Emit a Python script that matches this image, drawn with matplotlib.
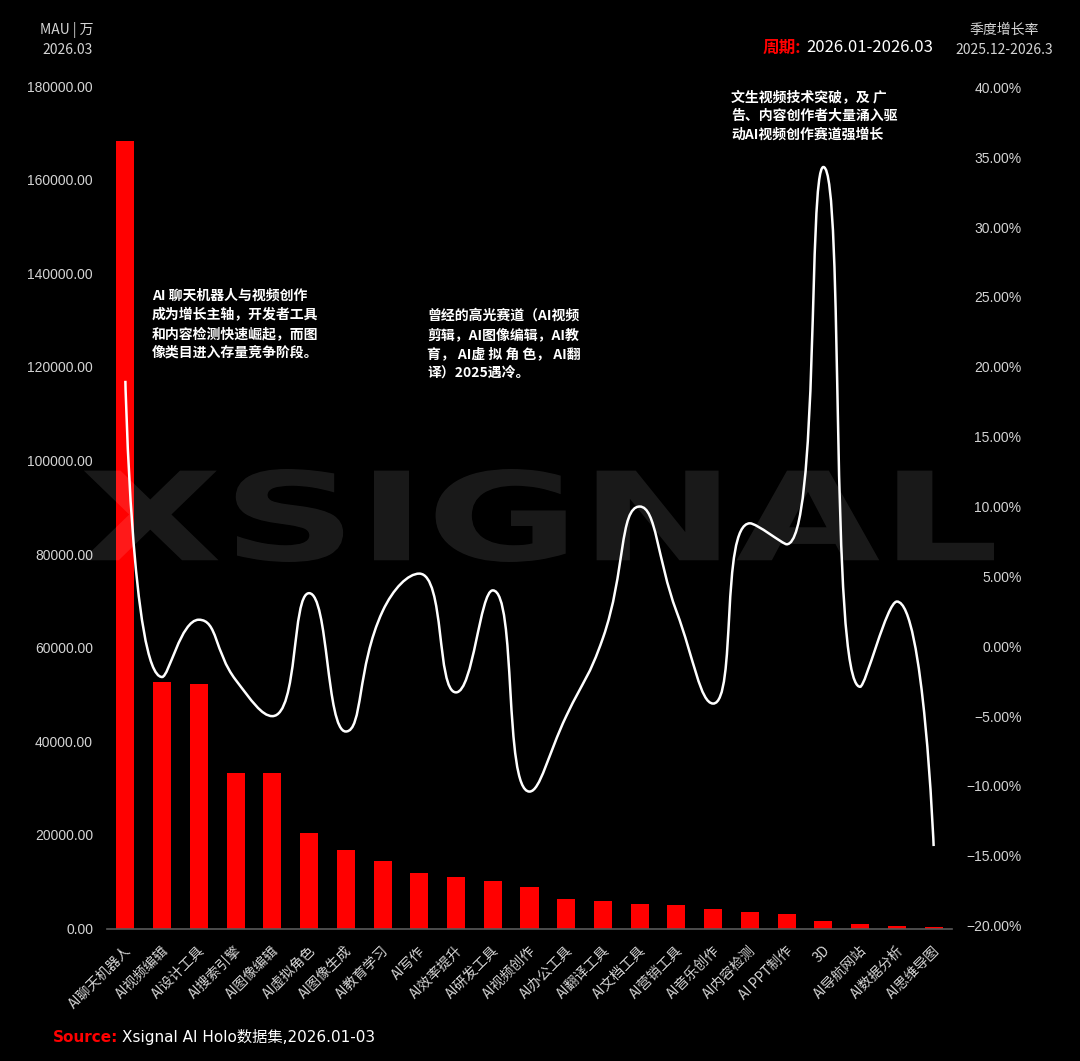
import numpy as np
import matplotlib
matplotlib.use("Agg")
import matplotlib.pyplot as plt
from matplotlib.path import Path
from matplotlib.patches import PathPatch
from matplotlib.textpath import TextPath
from matplotlib.font_manager import FontProperties
from matplotlib.transforms import Affine2D, ScaledTranslation
import matplotlib.ticker as mticker

plt.rcParams['font.family'] = ['Noto Sans CJK SC', 'DejaVu Sans']

# 数据
categories = ['AI聊天机器人', 'AI视频编辑', 'AI设计工具', 'AI搜索引擎', 'AI图像编辑',
              'AI虚拟角色', 'AI图像生成', 'AI教育学习', 'AI写作', 'AI效率提升',
              'AI研发工具', 'AI视频创作', 'AI办公工具', 'AI翻译工具', 'AI文档工具',
              'AI营销工具', 'AI音乐创作', 'AI内容检测', 'AI PPT制作', '3D',
              'AI导航网站', 'AI数据分析', 'AI思维导图']
mau = [168300, 52700, 52300, 33300, 33300, 20400, 16700, 14400, 11900, 10900,
       10100, 8760, 6400, 5800, 5300, 5100, 4100, 3600, 3200, 1500,
       1000, 500, 400]
growth = [19.0, -2.2, 1.9, -2.4, -5.0, 3.8, -6.1, 2.5, 5.2, -3.3,
          4.0, -10.4, -5.0, 0.6, 10.0, 2.5, -4.1, 8.8, 7.3, 34.3,
          -2.9, 3.2, -14.3]
left_ticks = np.arange(0, 180001, 20000)
right_ticks = np.arange(-20, 41, 5)

BG = '#000000'
RED = '#ff0000'
TXT = '#d4d4d4'
W, H = 1080, 1061

fig = plt.figure(figsize=(W / 100, H / 100), dpi=100, facecolor=BG)
ax = fig.add_axes([107 / W, 1 - 928.5 / H, (952 - 107) / W, (928.5 - 86) / H])
ax.set_facecolor(BG)
ax2 = ax.twinx()

x = np.arange(len(categories))
ax.bar(x, mau, width=0.49, color=RED, zorder=2)
ax.set_xlim(-0.5, len(categories) - 0.5)
ax.set_ylim(0, 180000)
ax2.set_ylim(-20.2, 40.1)

tick_font = dict(family='Liberation Sans', size=10)
ax.set_yticks(left_ticks)
ax.yaxis.set_major_formatter(mticker.FuncFormatter(lambda v, p: f'{v:.2f}'))
ax2.set_yticks(right_ticks)
ax2.yaxis.set_major_formatter(mticker.FuncFormatter(
    lambda v, p: f'{v:.2f}%'.replace('-', '\u2212')))
ax.tick_params(axis='y', length=0, pad=10, colors=TXT)
ax2.tick_params(axis='y', length=0, pad=50, colors=TXT)
for lab in ax.get_yticklabels():
    lab.set_fontproperties(FontProperties(**tick_font))
for lab in ax2.get_yticklabels():
    lab.set_fontproperties(FontProperties(**tick_font))
    lab.set_horizontalalignment('right')
ax.set_xticks([])
for a in (ax, ax2):
    for s in a.spines.values():
        s.set_visible(False)
ax.spines['bottom'].set_visible(True)
ax.spines['bottom'].set_color('#5a5a5a')
ax.spines['bottom'].set_linewidth(1.2)

# 类目标签
lab_tr = ax.get_xaxis_transform() + ScaledTranslation(4 / 100, -20 / 100, fig.dpi_scale_trans)
for i, c in enumerate(categories):
    ax.text(i, 0, c, transform=lab_tr, rotation=45, ha='right', va='center',
            rotation_mode='anchor', fontsize=10, color=TXT)


# 平滑曲线 (类似 echarts smooth)
def smooth_path(a, xs, ys, smooth=0.5):
    xs = np.asarray(xs, float)
    ys = np.asarray(ys, float)
    pix = a.transData.transform(np.column_stack([xs, ys]))
    n = len(xs)
    cin = [(xs[0], ys[0])] * n
    cout = [(xs[0], ys[0])] * n
    cin[-1] = (xs[-1], ys[-1])
    for i in range(1, n - 1):
        px, py, cx, cy, nx, ny = xs[i - 1], ys[i - 1], xs[i], ys[i], xs[i + 1], ys[i + 1]
        lp = np.hypot(*(pix[i] - pix[i - 1]))
        ln = np.hypot(*(pix[i + 1] - pix[i]))
        vx, vy = nx - px, ny - py
        r = ln / (ln + lp)
        ncx = cx + vx * smooth * r
        ncy = cy + vy * smooth * r
        ncx = min(max(ncx, min(nx, cx)), max(nx, cx))
        ncy = min(max(ncy, min(ny, cy)), max(ny, cy))
        vx, vy = ncx - cx, ncy - cy
        c1x = cx - vx * lp / ln
        c1y = cy - vy * lp / ln
        c1x = min(max(c1x, min(px, cx)), max(px, cx))
        c1y = min(max(c1y, min(py, cy)), max(py, cy))
        vx, vy = cx - c1x, cy - c1y
        ncx = cx + vx * ln / lp
        ncy = cy + vy * ln / lp
        cin[i] = (c1x, c1y)
        cout[i] = (ncx, ncy)
    verts = [(xs[0], ys[0])]
    codes = [Path.MOVETO]
    for i in range(1, n):
        verts += [cout[i - 1], cin[i], (xs[i], ys[i])]
        codes += [Path.CURVE4] * 3
    return Path(verts, codes)


ax2.add_patch(PathPatch(smooth_path(ax2, x, growth), facecolor='none',
                        edgecolor='white', lw=1.8, zorder=3))

# 注释
note_kw = dict(color='white', fontsize=10, fontweight='bold', va='top',
               linespacing=1.45)
fig.text(152 / W, 1 - 289 / H,
         'AI 聊天机器人与视频创作\n成为增长主轴，开发者工具\n和内容检测快速崛起，而图\n像类目进入存量竞争阶段。',
         **note_kw)
fig.text(427 / W, 1 - 309 / H,
         '曾经的高光赛道（AI视频\n剪辑，AI图像编辑，AI教\n育， AI虚 拟 角 色， AI翻\n译）2025遇冷。',
         **note_kw)
fig.text(731 / W, 1 - 90 / H,
         '文生视频技术突破，及 广\n告、内容创作者大量涌入驱\n动AI视频创作赛道强增长',
         **note_kw)

# 表头
fig.text(93 / W, 1 - 30 / H, 'MAU | 万', ha='right', va='center', fontsize=10, color=TXT)
fig.text(93 / W, 1 - 50 / H, '2026.03', ha='right', va='center', fontsize=10, color=TXT)
fig.text(1004 / W, 1 - 30 / H, '季度增长率', ha='center', va='center', fontsize=10, color=TXT)
fig.text(1004 / W, 1 - 50 / H, '2025.12-2026.3', ha='center', va='center', fontsize=10, color=TXT)
fig.text(801 / W, 1 - 48 / H, '周期:', ha='right', va='center', fontsize=12,
         fontweight='bold', color=RED)
fig.text(933 / W, 1 - 48 / H, '2026.01-2026.03', ha='right', va='center', fontsize=12,
         color='white')

# 来源
src_family = ['DejaVu Sans', 'Noto Sans CJK SC']
fig.text(53 / W, 1 - 1037 / H, 'Source:', ha='left', va='center', fontsize=11,
         fontweight='bold', color=RED, family=src_family)
fig.text(122 / W, 1 - 1037 / H, 'Xsignal AI Holo数据集,2026.01-03', ha='left',
         va='center', fontsize=11, color='white', family=src_family)

# 水印
tp = TextPath((0, 0), 'XSIGNAL', size=100,
              prop=FontProperties(family='DejaVu Sans', weight='bold'))
bb = tp.get_extents()
wm_tr = (Affine2D().translate(-bb.x0, -bb.y0)
         .scale((994 - 82) / bb.width / W, (562 - 469) / bb.height / H)
         .translate(82 / W, 1 - 562 / H))
wm = PathPatch(wm_tr.transform_path(tp), facecolor='white', edgecolor='none',
               alpha=0.1, transform=fig.transFigure, zorder=5)
fig.add_artist(wm)

fig.savefig('out.png', dpi=100, facecolor=BG)
